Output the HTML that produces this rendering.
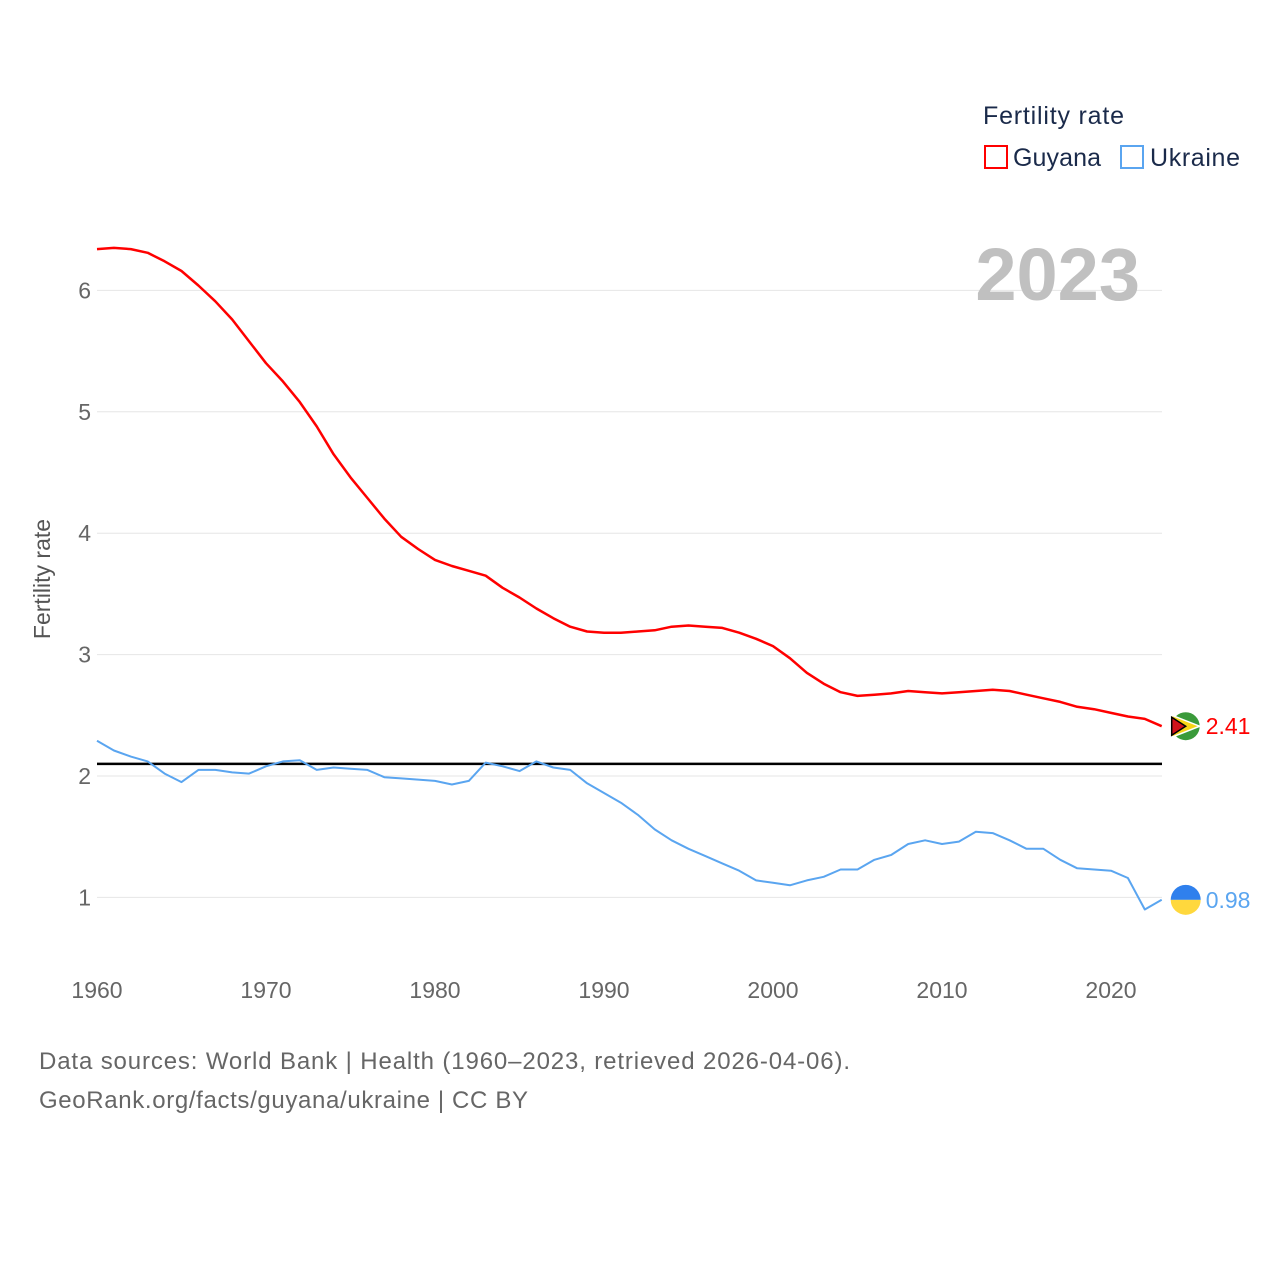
<!DOCTYPE html>
<html><head><meta charset="utf-8"><style>
html,body{margin:0;padding:0;background:#fff;width:1280px;height:1280px;overflow:hidden;font-family:"Liberation Sans",sans-serif}
svg text{font-family:"Liberation Sans",sans-serif}
</style></head><body>
<svg id="chart" width="1280" height="1280" xmlns="http://www.w3.org/2000/svg">
<g id="grid"></g>
<g id="yticks"></g>
<g id="xticks"></g>
<text transform="translate(50,579) rotate(-90)" text-anchor="middle" font-size="23" fill="#555">Fertility rate</text>
<text x="1140" y="300" text-anchor="end" font-size="74" font-weight="bold" fill="#c0c0c0">2023</text>
<g>
<text x="983" y="124" font-size="25" fill="#1a2a4a" textLength="141">Fertility rate</text>
<rect x="985" y="146" width="22" height="22" fill="none" stroke="#ff0000" stroke-width="2"/>
<text x="1013" y="166" font-size="25" fill="#1a2a4a" textLength="88">Guyana</text>
<rect x="1121" y="146" width="22" height="22" fill="none" stroke="#5aa5f0" stroke-width="2"/>
<text x="1150" y="166" font-size="25" fill="#1a2a4a" textLength="90">Ukraine</text>
</g>
<g id="series"></g>
<text x="39" y="1069" font-size="24" fill="#666" textLength="811">Data sources: World Bank | Health (1960–2023, retrieved 2026-04-06).</text>
<text x="39" y="1108" font-size="24" fill="#666" textLength="489">GeoRank.org/facts/guyana/ukraine | CC BY</text>
</svg>
<script>
const years = [];
for (let y = 1960; y <= 2023; y++) years.push(y);
const guyana = [6.34,6.35,6.34,6.31,6.24,6.16,6.04,5.91,5.76,5.58,5.40,5.25,5.08,4.88,4.65,4.46,4.29,4.12,3.97,3.87,3.78,3.73,3.69,3.65,3.55,3.47,3.38,3.30,3.23,3.19,3.18,3.18,3.19,3.20,3.23,3.24,3.23,3.22,3.18,3.13,3.07,2.97,2.85,2.76,2.69,2.66,2.67,2.68,2.70,2.69,2.68,2.69,2.70,2.71,2.70,2.67,2.64,2.61,2.57,2.55,2.52,2.49,2.47,2.41];
const ukraine = [2.29,2.21,2.16,2.12,2.02,1.95,2.05,2.05,2.03,2.02,2.08,2.12,2.13,2.05,2.07,2.06,2.05,1.99,1.98,1.97,1.96,1.93,1.96,2.11,2.08,2.04,2.12,2.07,2.05,1.94,1.86,1.78,1.68,1.56,1.47,1.40,1.34,1.28,1.22,1.14,1.12,1.10,1.14,1.17,1.23,1.23,1.31,1.35,1.44,1.47,1.44,1.46,1.54,1.53,1.47,1.40,1.40,1.31,1.24,1.23,1.22,1.16,0.90,0.98];
const yTicks = [1,2,3,4,5,6];
const xTicks = [1960,1970,1980,1990,2000,2010,2020];
const replacement = 2.1;

const NS = "http://www.w3.org/2000/svg";
const x = yr => 97 + (yr - 1960) * (1111 - 97) / 60;
const y = v => 776 - (v - 2) * 121.4;
function mk(tag, attrs, parent) { const e = document.createElementNS(NS, tag); for (const k in attrs) e.setAttribute(k, attrs[k]); parent.appendChild(e); return e; }
const grid = document.getElementById('grid'), yt = document.getElementById('yticks'), xt = document.getElementById('xticks'), ser = document.getElementById('series');
yTicks.forEach(t => {
  const l = mk('line', {x1: 97, x2: 1162, y1: y(t), y2: y(t), stroke: '#e6e6e6', 'stroke-width': 1}, grid);
  
  
  const tx = mk('text', {x: 91, y: y(t) + 8, 'text-anchor': 'end', 'font-size': 23, fill: '#666'}, yt);
  tx.textContent = t;
  
  
});
xTicks.forEach(t => {
  const tx = mk('text', {x: x(t), y: 998, 'text-anchor': 'middle', 'font-size': 23, fill: '#666'}, xt);
  tx.textContent = t;
  
  
});
const ref = mk('line', {x1: 97, x2: 1162, y1: y(replacement), y2: y(replacement), stroke: '#000', 'stroke-width': 2.5}, ser);


function line(vals, color, name) {
  const d = vals.map((v, i) => (i ? 'L' : 'M') + x(years[i]).toFixed(1) + ',' + y(v).toFixed(1)).join('');
  const p = mk('path', {d: d, fill: 'none', stroke: color, 'stroke-width': name === 'guyana' ? 2.5 : 2, 'stroke-linejoin': 'round'}, ser);
  
  
  const last = vals[vals.length - 1];
  const cx = x(years[years.length - 1]) + 24, cy = y(last);
  const g = mk('g', {}, ser);
  
  
  if (name === 'guyana') {
    mk('circle', {cx: cx, cy: cy, r: 14, fill: '#3a9a3a'}, g);
    mk('path', {d: `M${cx-14},${cy-11} L${cx+14},${cy} L${cx-14},${cy+11}Z`, fill: '#f7d417', stroke: '#fff', 'stroke-width': 1.5}, g);
    mk('path', {d: `M${cx-14},${cy-9} L${cx},${cy} L${cx-14},${cy+9}Z`, fill: '#d0121b', stroke: '#000', 'stroke-width': 1.5}, g);
  } else {
    mk('path', {d: `M${cx-15},${cy} A15,15 0 0 1 ${cx+15},${cy}Z`, fill: '#2f80ed'}, g);
    mk('path', {d: `M${cx-15},${cy} A15,15 0 0 0 ${cx+15},${cy}Z`, fill: '#ffd83d'}, g);
  }
  const lbl = mk('text', {x: cx + 20, y: cy + 8, 'font-size': 23, fill: color}, ser);
  lbl.textContent = last.toFixed(2);
  
  
}
line(guyana, '#ff0000', 'guyana');
line(ukraine, '#5aa5f0', 'ukraine');
</script>
</body></html>
